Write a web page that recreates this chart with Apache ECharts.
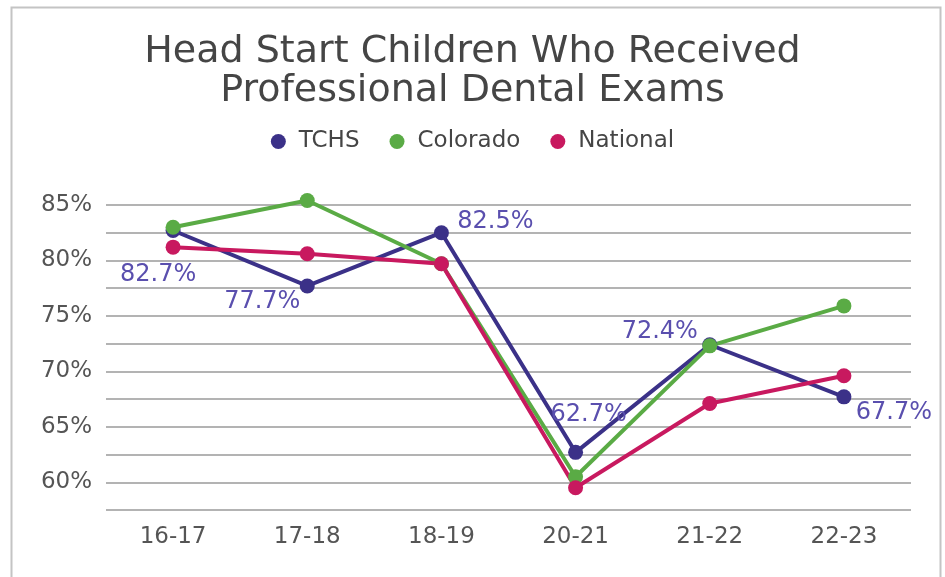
<!DOCTYPE html>
<html>
<head>
<meta charset="utf-8">
<script src="https://cdn.jsdelivr.net/npm/echarts@6/dist/echarts.min.js"></script>
<style>html,body{margin:0;padding:0;background:#fff}#c{width:945px;height:577px}</style>
</head>
<body>
<div id="c"></div>
<script>
const categories = ['16-17', '17-18', '18-19', '20-21', '21-22', '22-23'];
const tchs = [82.7, 77.7, 82.5, 62.7, 72.4, 67.7];
const colorado = [83.0, 85.4, 79.7, 60.5, 72.3, 75.9];
const national = [81.2, 80.6, 79.7, 59.5, 67.1, 69.6];
const tchsLabelOffsets = [[-15, 44], [-45, 16], [54, -11], [13, -38], [-50, -13], [50, 16]];

const FONT = '"DejaVu Sans", Verdana, sans-serif';
const chart = echarts.init(document.getElementById('c'));

const tchsData = tchs.map((v, i) => ({
  value: v,
  label: { show: true, position: 'inside', offset: tchsLabelOffsets[i] }
}));

function mkSeries(name, data, color, withLabel) {
  return {
    name, type: 'line', data, clip: false,
    symbol: 'circle', symbolSize: 15,
    lineStyle: { width: 4, color },
    itemStyle: { color },
    label: withLabel ? {
      show: true, fontFamily: FONT, fontSize: 24, color: '#5a4fae',
      formatter: p => p.value.toFixed(1) + '%'
    } : { show: false },
    emphasis: { disabled: true },
    animation: false
  };
}

chart.setOption({
  backgroundColor: '#fff',
  animation: false,
  title: {
    text: 'Head Start Children Who Received\nProfessional Dental Exams',
    left: 'center', top: 28,
    textStyle: { fontFamily: FONT, fontSize: 38, lineHeight: 39, fontWeight: 'normal', color: '#454545' }
  },
  legend: {
    top: 125, left: 'center',
    icon: 'circle', itemWidth: 15, itemHeight: 15, itemGap: 30,
    textStyle: { fontFamily: FONT, fontSize: 23, color: '#454545', padding: [0, 0, 0, 8] },
    data: ['TCHS', 'Colorado', 'National']
  },
  grid: { left: 106, right: 34, top: 205, bottom: 67, containLabel: false },
  xAxis: {
    type: 'category', data: categories, boundaryGap: true,
    axisLine: { show: false }, axisTick: { show: false },
    axisLabel: { fontFamily: FONT, fontSize: 23, color: '#555', margin: 16 }
  },
  yAxis: {
    type: 'value', min: 57.5, max: 85, interval: 2.5,
    axisLine: { show: false }, axisTick: { show: false },
    axisLabel: {
      fontFamily: FONT, fontSize: 23, color: '#555', margin: 14,
      formatter: v => Math.abs(v / 5 - Math.round(v / 5)) < 1e-6 ? v + '%' : ''
    },
    splitLine: { lineStyle: { color: '#b3b3b3', width: 2 } }
  },
  graphic: [{
    type: 'rect', left: 9, top: 5, z: -1, silent: true,
    shape: { width: 929, height: 580 },
    style: { fill: 'none', stroke: '#c4c4c4', lineWidth: 2 }
  }],
  series: [
    mkSeries('TCHS', tchsData, '#3b3188', true),
    mkSeries('Colorado', colorado, '#5aab45', false),
    mkSeries('National', national, '#c8195f', false)
  ]
});
</script>
</body>
</html>
